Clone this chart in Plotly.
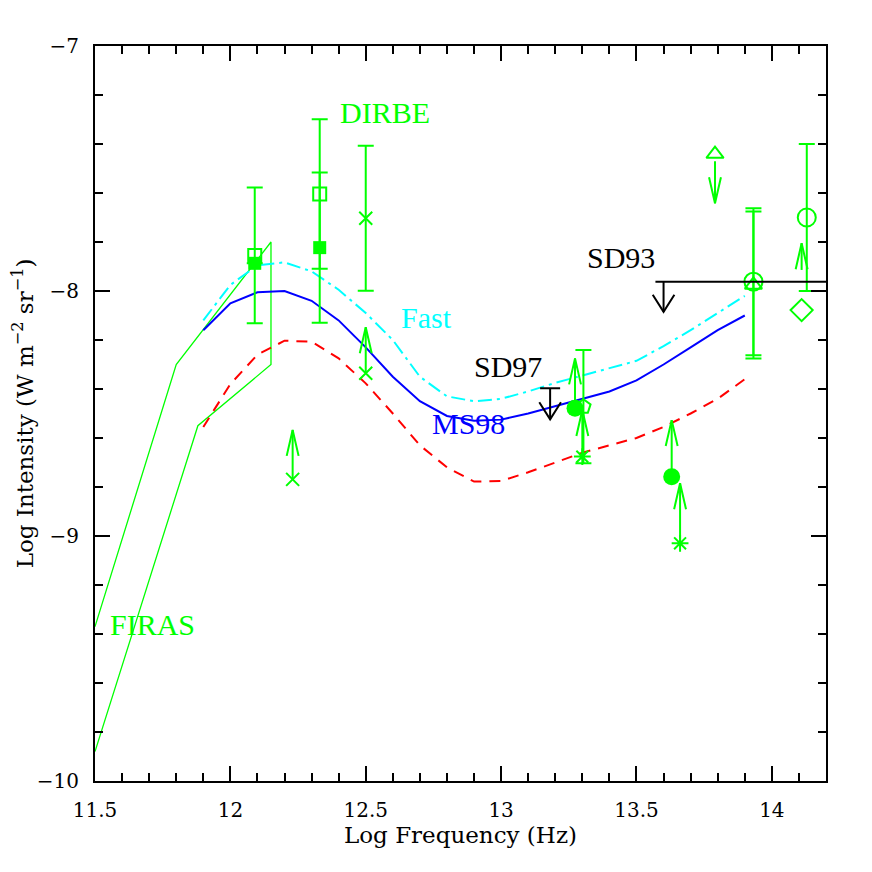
import plotly.graph_objects as go

# model curves (log nu, log I)
model_x = [11.9, 12.0, 12.1, 12.2, 12.3, 12.4, 12.5, 12.6, 12.7, 12.8, 12.9,
           13.0, 13.1, 13.2, 13.3, 13.4, 13.5, 13.6, 13.7, 13.8, 13.9]
ms98_y = [-8.16, -8.05, -8.005, -8.0, -8.04, -8.12, -8.23, -8.35, -8.45, -8.51, -8.53,
          -8.525, -8.50, -8.47, -8.44, -8.41, -8.365, -8.30, -8.23, -8.16, -8.10]
fast_y = [-8.12, -7.975, -7.895, -7.883, -7.92, -7.995, -8.09, -8.20, -8.35, -8.43, -8.45,
          -8.44, -8.41, -8.375, -8.345, -8.315, -8.285, -8.225, -8.16, -8.09, -8.02]
low_y = [-8.555, -8.38, -8.26, -8.203, -8.207, -8.275, -8.377, -8.50, -8.63, -8.72, -8.778,
         -8.775, -8.74, -8.70, -8.66, -8.63, -8.60, -8.555, -8.50, -8.44, -8.36]

# FIRAS band outline
firas_x = [11.5, 11.80, 12.15, 12.15, 11.88, 11.5]
firas_y = [-9.37, -8.30, -7.80, -8.30, -8.55, -9.88]

# detections with error bars
osq_x = [12.09, 12.33]
osq_y = [-7.855, -7.604]
osq_err = [0.277, 0.305]
fsq_x = [12.09, 12.33]
fsq_y = [-7.887, -7.823]
fsq_err = [0.0, 0.307]
cross_x = [12.5]
cross_y = [-7.703]
cross_err = [0.296]
ocirc_x = [13.932, 14.129]
ocirc_y = [-7.962, -7.70]
ocirc_err = [0.30, 0.30]
otri_x = [13.932]
otri_y = [-7.975]
otri_err = [0.30]
pent_x = [13.304]
pent_y = [-8.472]
pent_err = [0.231]

# lower limits (arrow up): marker position, arrow start, arrow tip
llx_cross = [12.5, 12.23]
lly_cross = [-8.336, -8.769]
llx_fcirc = [13.273, 13.630]
lly_fcirc = [-8.479, -8.758]
llx_ast = [13.30, 13.661]
lly_ast = [-8.676, -9.03]
llx_diam = [14.11]
lly_diam = [-8.078]
up_x = [12.5, 12.23, 13.273, 13.630, 13.30, 13.661, 14.11]
up_base = [-8.336, -8.769, -8.479, -8.758, -8.676, -9.03, -7.914]
up_tip = [-8.148, -8.567, -8.275, -8.527, -8.486, -8.785, -7.805]

# upper limit triangle (arrow down)
ul_tri_x = [13.79]
ul_tri_y = [-7.441]
ul_base = [-7.47]
ul_tip = [-7.642]

# black upper limits
sd97_x = 13.181
sd97_y = -8.397
sd97_tip = -8.524
sd93_x = [13.57, 14.2]
sd93_y = -7.962
sd93_arrow_x = 13.60
sd93_tip = -8.085

GREEN = '#00ff00'
BLACK = '#000000'


def arrows(xs, bases, tips, hw, hl):
    # shaft plus open V head, head pointing towards the tip
    px, py = [], []
    for x, b, t in zip(xs, bases, tips):
        s = 1 if t > b else -1
        px += [x, x, None, x - hw, x, x + hw, None]
        py += [b, t, None, t - s * hl, t, t - s * hl, None]
    return px, py


fig = go.Figure()

fig.add_trace(go.Scatter(x=firas_x, y=firas_y, mode='lines',
                         line=dict(color=GREEN, width=1.3)))
fig.add_trace(go.Scatter(x=model_x, y=low_y, mode='lines',
                         line=dict(color='#ff0000', width=2, dash='11px,8px')))
fig.add_trace(go.Scatter(x=model_x, y=ms98_y, mode='lines',
                         line=dict(color='#0000ff', width=2)))
fig.add_trace(go.Scatter(x=model_x, y=fast_y, mode='lines',
                         line=dict(color='#00ffff', width=2, dash='14px,5px,3px,5px')))

err_style = dict(type='data', color=GREEN, thickness=2, width=8)
mk_line = dict(color=GREEN, width=2)

fig.add_trace(go.Scatter(x=osq_x, y=osq_y, mode='markers',
                         error_y=dict(array=osq_err, **err_style),
                         marker=dict(symbol='square-open', size=13, color=GREEN, line=mk_line)))
fig.add_trace(go.Scatter(x=fsq_x, y=fsq_y, mode='markers',
                         error_y=dict(array=fsq_err, **err_style),
                         marker=dict(symbol='square', size=13, color=GREEN)))
fig.add_trace(go.Scatter(x=cross_x, y=cross_y, mode='markers',
                         error_y=dict(array=cross_err, **err_style),
                         marker=dict(symbol='x-thin-open', size=13, color=GREEN, line=mk_line)))
fig.add_trace(go.Scatter(x=ocirc_x, y=ocirc_y, mode='markers',
                         error_y=dict(array=ocirc_err, **err_style),
                         marker=dict(symbol='circle-open', size=18, color=GREEN, line=mk_line)))
fig.add_trace(go.Scatter(x=otri_x, y=otri_y, mode='markers',
                         error_y=dict(array=otri_err, **err_style),
                         marker=dict(symbol='triangle-up-open', size=15, color=GREEN, line=mk_line)))
fig.add_trace(go.Scatter(x=pent_x, y=pent_y, mode='markers',
                         error_y=dict(array=pent_err, **err_style),
                         marker=dict(symbol='pentagon-open', size=15, color=GREEN, line=mk_line)))

# limit arrows
ax_, ay_ = arrows(up_x, up_base, up_tip, 0.022, 0.106)
fig.add_trace(go.Scatter(x=ax_, y=ay_, mode='lines', line=dict(color=GREEN, width=2)))
ax_, ay_ = arrows(ul_tri_x, ul_base, ul_tip, 0.022, 0.106)
fig.add_trace(go.Scatter(x=ax_, y=ay_, mode='lines', line=dict(color=GREEN, width=2)))

fig.add_trace(go.Scatter(x=llx_cross, y=lly_cross, mode='markers',
                         marker=dict(symbol='x-thin-open', size=13, color=GREEN, line=mk_line)))
fig.add_trace(go.Scatter(x=llx_fcirc, y=lly_fcirc, mode='markers',
                         marker=dict(symbol='circle', size=17, color=GREEN)))
fig.add_trace(go.Scatter(x=llx_ast, y=lly_ast, mode='markers',
                         marker=dict(symbol='asterisk-open', size=14, color=GREEN, line=mk_line)))
fig.add_trace(go.Scatter(x=llx_diam, y=lly_diam, mode='markers',
                         marker=dict(symbol='diamond-open', size=17, color=GREEN, line=mk_line)))
fig.add_trace(go.Scatter(x=ul_tri_x, y=ul_tri_y, mode='markers',
                         marker=dict(symbol='triangle-up-open', size=15, color=GREEN, line=mk_line)))

# black upper limits SD97 / SD93
bx, by = arrows([sd97_x, sd93_arrow_x], [sd97_y, sd93_y], [sd97_tip, sd93_tip], 0.04, 0.07)
bx += [sd97_x - 0.037, sd97_x + 0.037, None, sd93_x[0], sd93_x[1]]
by += [sd97_y, sd97_y, None, sd93_y, sd93_y]
fig.add_trace(go.Scatter(x=bx, y=by, mode='lines', line=dict(color=BLACK, width=2)))

labels = [
    ('DIRBE', 12.571, -7.27, GREEN),
    ('Fast', 12.723, -8.11, '#00ffff'),
    ('MS98', 12.878, -8.54, '#0000ff'),
    ('SD97', 13.026, -8.31, BLACK),
    ('SD93', 13.443, -7.865, BLACK),
    ('FIRAS', 11.711, -9.36, GREEN),
]
for txt, x, y, c in labels:
    fig.add_annotation(x=x, y=y, text=txt, showarrow=False,
                       font=dict(family='Liberation Serif', size=30, color=c))

axis_common = dict(showline=True, linecolor='black', linewidth=2, mirror='allticks',
                   ticks='inside', ticklen=15, tickwidth=1.5, tickcolor='black',
                   showgrid=False, zeroline=False, ticklabelstandoff=10, automargin=False,
                   tickfont=dict(family='DejaVu Serif', size=20, color='black'),
                   title_font=dict(family='DejaVu Serif', size=23, color='black'))

fig.update_xaxes(range=[11.5, 14.2], tickvals=[11.5, 12, 12.5, 13, 13.5, 14],
                 ticktext=['11.5', '12', '12.5', '13', '13.5', '14'],
                 minor=dict(ticks='inside', ticklen=8, dtick=0.1, tick0=11.5,
                            tickcolor='black', tickwidth=1.5, showgrid=False),
                 title=dict(text='Log Frequency (Hz)', standoff=6), **axis_common)
fig.update_yaxes(range=[-10, -7], tickvals=[-10, -9, -8, -7],
                 ticktext=['\u221210', '\u22129', '\u22128', '\u22127'],
                 minor=dict(ticks='inside', ticklen=8, dtick=0.2, tick0=-10,
                            tickcolor='black', tickwidth=1.5, showgrid=False),
                 title=dict(text='Log Intensity (W m<sup>\u22122</sup> sr<sup>\u22121</sup>)',
                            standoff=6), **axis_common)

# page body adds an 8px offset, so the figure is 8px smaller and margins shifted
fig.update_layout(width=864, height=864, showlegend=False,
                  paper_bgcolor='white', plot_bgcolor='white',
                  margin=dict(l=87, r=46, t=38, b=91))

fig.write_html("out.html")
